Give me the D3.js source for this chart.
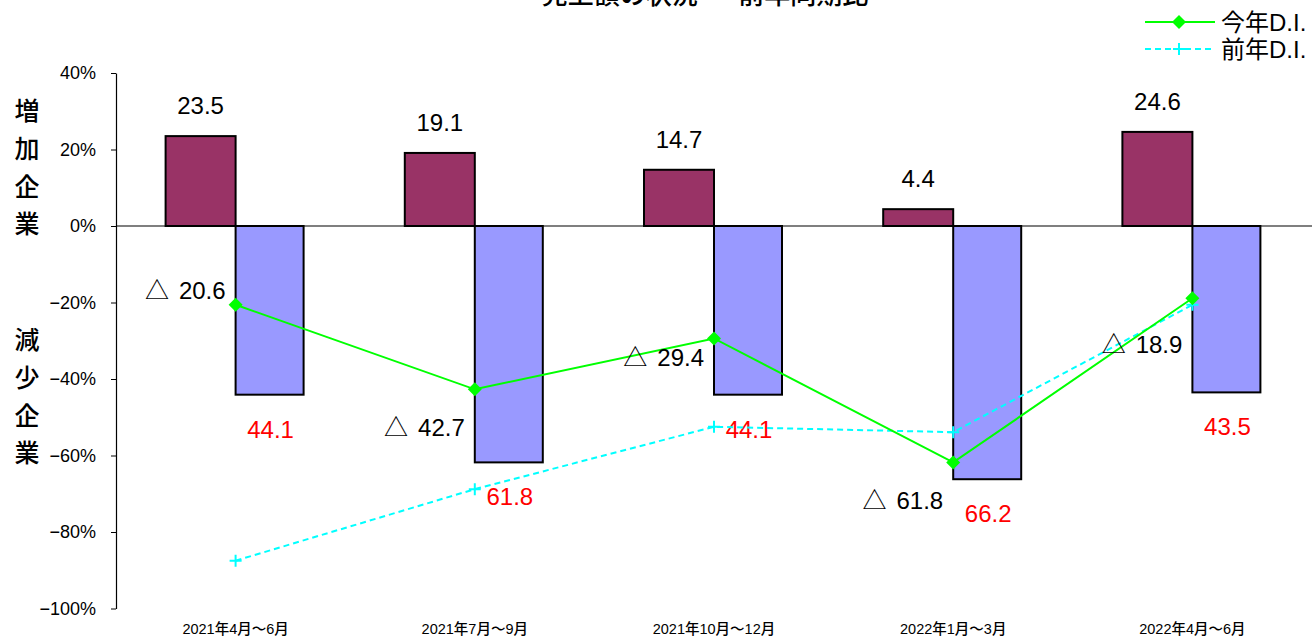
<!DOCTYPE html>
<html><head><meta charset="utf-8">
<script src="https://cdn.jsdelivr.net/npm/d3@7"></script>
<style>
body{margin:0;background:#fff;}
text{font-family:"Liberation Sans","Noto Sans CJK JP",sans-serif;}
</style></head>
<body><svg id="c" width="1312" height="636"></svg>
<script>
const categories = ["2021年4月～6月","2021年7月～9月","2021年10月～12月","2022年1月～3月","2022年4月～6月"];
const increase = [23.5, 19.1, 14.7, 4.4, 24.6];
const decrease = [44.1, 61.8, 44.1, 66.2, 43.5];
const diThisYear = [-20.6, -42.7, -29.4, -61.8, -18.9];
const diLastYear = [-87.5, -68.8, -52.5, -53.9, -20.6];
const yTicks = [40, 20, 0, -20, -40, -60, -80, -100];
const seriesNames = ["今年D.I.", "前年D.I."];
const titleText = "売上額の状況 ― 前年同期比";
// label placement offsets for the D.I. labels (layout only)
const diLabelDy = [-15, 38, 19, 38, 46];

const svg = d3.select("#c");
const plotL = 116, plotR = 1312, plotT = 73, plotB = 608.5;
const x = d3.scaleBand().domain(categories).range([plotL, plotR]);
const y = d3.scaleLinear().domain([-100, 40]).range([plotB, plotT]);
const bw = 70;
const cx = c => x(c) + x.bandwidth() / 2;

// title (clipped at top, as in the reference)
svg.append("text").attr("x", 705).attr("y", 4).attr("text-anchor", "middle")
  .attr("font-size", 26).attr("font-family", "Noto Sans CJK JP").attr("font-weight", 500).text(titleText);

// y axis
const yAxis = d3.axisLeft(y).tickValues(yTicks).tickSize(5).tickSizeOuter(0)
  .tickFormat(d => (d < 0 ? "\u2212" + (-d) : d) + "%");
const ga = svg.append("g").attr("transform", `translate(${plotL},0)`).call(yAxis);
ga.select(".domain").attr("stroke", "#000").attr("stroke-width", 1.2);
ga.selectAll(".tick line").attr("stroke", "#000");
ga.selectAll(".tick text").attr("font-size", 18).attr("fill", "#000").attr("x", -20)
  .attr("font-family", "Liberation Sans");

// zero line
svg.append("line").attr("x1", plotL).attr("x2", plotR).attr("y1", y(0)).attr("y2", y(0))
  .attr("stroke", "#000").attr("stroke-width", 1.2);

// vertical side labels
const sideLabel = (str, y0) => {
  [...str].forEach((ch, i) => {
    svg.append("text").attr("x", 27).attr("y", y0 + i * 37.8).attr("text-anchor", "middle")
      .attr("font-size", 25).attr("font-family", "Noto Sans CJK JP").attr("font-weight", 500).text(ch);
  });
};
sideLabel("増加企業", 120);
sideLabel("減少企業", 349);

// bars
svg.selectAll(".inc").data(increase).join("rect")
  .attr("x", (d, i) => cx(categories[i]) - bw).attr("width", bw)
  .attr("y", d => y(d)).attr("height", d => y(0) - y(d))
  .attr("fill", "#993366").attr("stroke", "#000").attr("stroke-width", 2);
svg.selectAll(".dec").data(decrease).join("rect")
  .attr("x", (d, i) => cx(categories[i])).attr("width", bw - 2)
  .attr("y", y(0)).attr("height", d => y(-d) - y(0))
  .attr("fill", "#9999FF").attr("stroke", "#000").attr("stroke-width", 2);

// bar labels
svg.selectAll(".incl").data(increase).join("text")
  .attr("x", (d, i) => cx(categories[i]) - bw / 2).attr("y", d => y(d) - 22)
  .attr("text-anchor", "middle").attr("font-size", 24).attr("fill", "#000")
  .text(d => d.toFixed(1));
svg.selectAll(".decl").data(decrease).join("text")
  .attr("x", (d, i) => cx(categories[i]) + bw / 2).attr("y", d => y(-d) + 43)
  .attr("text-anchor", "middle").attr("font-size", 24).attr("fill", "#FF0000")
  .text(d => d.toFixed(1));

// lines
const line = d3.line().x((d, i) => cx(categories[i])).y(d => y(d));
svg.append("path").datum(diLastYear).attr("d", line).attr("fill", "none")
  .attr("stroke", "#00FFFF").attr("stroke-width", 2).attr("stroke-dasharray", "6,4");
svg.selectAll(".plus").data(diLastYear).join("path")
  .attr("d", (d, i) => { const px = cx(categories[i]), py = y(d);
    return `M${px-6},${py}H${px+6}M${px},${py-6}V${py+6}`; })
  .attr("stroke", "#00FFFF").attr("stroke-width", 2);
svg.append("path").datum(diThisYear).attr("d", line).attr("fill", "none")
  .attr("stroke", "#00FF00").attr("stroke-width", 2);
svg.selectAll(".dia").data(diThisYear).join("path")
  .attr("d", (d, i) => { const px = cx(categories[i]), py = y(d);
    return `M${px},${py-7}L${px+7},${py}L${px},${py+7}L${px-7},${py}Z`; })
  .attr("fill", "#00FF00");

// DI labels
const dil = svg.selectAll(".dil").data(diThisYear).join("text")
  .attr("x", (d, i) => cx(categories[i]) - 10).attr("y", (d, i) => y(d) + diLabelDy[i] + 9)
  .attr("text-anchor", "end").attr("font-size", 24).attr("fill", "#000");
dil.append("tspan").attr("font-family", "Noto Sans CJK JP").text("△");
dil.append("tspan").attr("dx", 10).text(d => Math.abs(d).toFixed(1));

// category labels
svg.selectAll(".cat").data(categories).join("text")
  .attr("x", d => cx(d)).attr("y", 634).attr("text-anchor", "middle")
  .attr("font-size", 14.5).attr("font-family", "Noto Sans CJK JP").attr("font-weight", 500).text(d => d);

// legend
const lg = svg.append("g");
[0, 1].forEach(i => {
  const ly = 22 + i * 27;
  lg.append("line").attr("x1", 1145).attr("x2", 1215).attr("y1", ly).attr("y2", ly)
    .attr("stroke", i ? "#00FFFF" : "#00FF00").attr("stroke-width", 2)
    .attr("stroke-dasharray", i ? "6,4" : null);
  if (i) lg.append("path").attr("d", `M1173,${ly}H1185M1179,${ly-6}V${ly+6}`).attr("stroke", "#00FFFF").attr("stroke-width", 2);
  else lg.append("path").attr("d", `M1179,${ly-7}L1186,${ly}L1179,${ly+7}L1172,${ly}Z`).attr("fill", "#00FF00");
  lg.append("text").attr("x", 1221).attr("y", ly + 9).attr("font-size", 24)
    .attr("font-family", "Noto Sans CJK JP").text(seriesNames[i]);
});
</script></body></html>
